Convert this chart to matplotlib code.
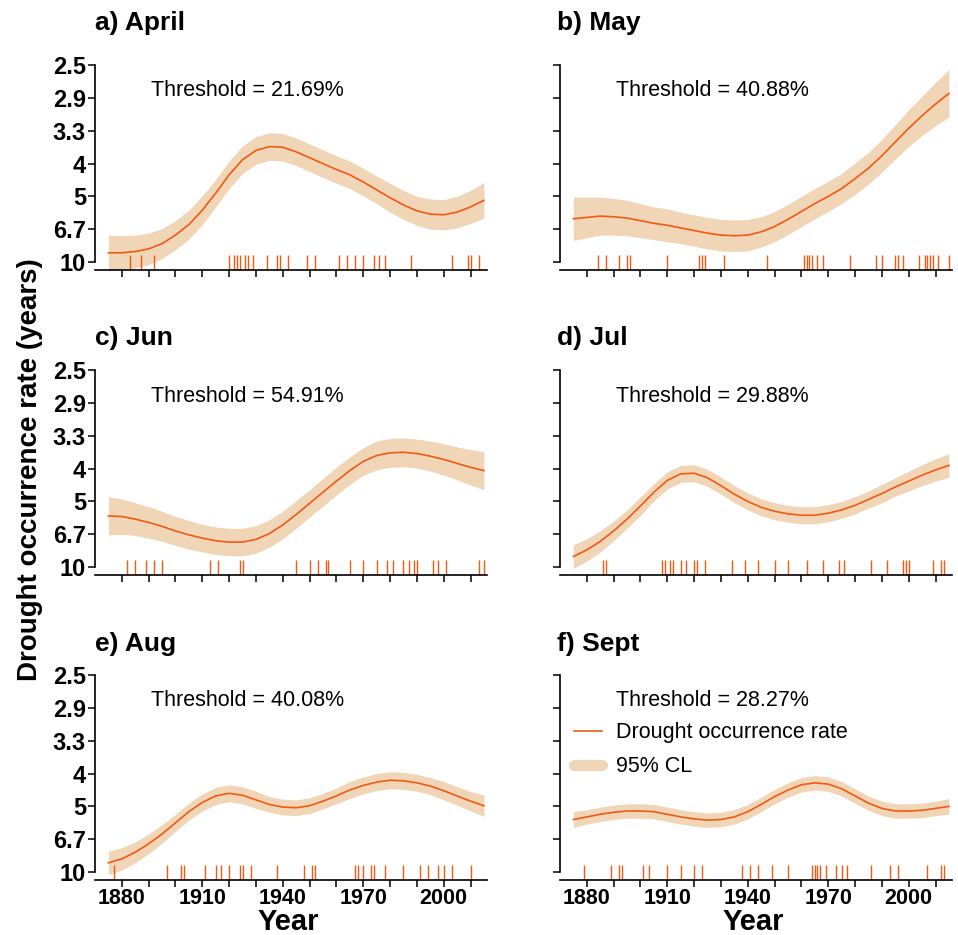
import matplotlib
matplotlib.use("Agg")
import matplotlib.pyplot as plt
import matplotlib.transforms as mtransforms
from matplotlib.lines import Line2D
import numpy as np

plt.rcParams['font.family'] = ['Liberation Sans', 'DejaVu Sans']

# sample years of the smoothed rate curves
years = list(range(1875, 2020, 5))

titles = ['a) April', 'b) May', 'c) Jun', 'd) Jul', 'e) Aug', 'f) Sept']
thresholds = ['21.69%', '40.88%', '54.91%', '29.88%', '40.08%', '28.27%']

# fitted drought occurrence rate (per year)
rate_apr = [0.114, 0.114, 0.116, 0.120, 0.128, 0.141, 0.157, 0.179, 0.205, 0.233,
            0.256, 0.270, 0.276, 0.275, 0.268, 0.259, 0.250, 0.241, 0.233, 0.222,
            0.210, 0.198, 0.187, 0.178, 0.173, 0.172, 0.176, 0.184, 0.194]
rate_may = [0.166, 0.168, 0.170, 0.169, 0.167, 0.163, 0.159, 0.156, 0.152, 0.148,
            0.144, 0.141, 0.140, 0.141, 0.146, 0.154, 0.165, 0.177, 0.189, 0.200,
            0.212, 0.227, 0.243, 0.262, 0.283, 0.304, 0.323, 0.341, 0.357]
rate_jun = [0.178, 0.177, 0.173, 0.168, 0.162, 0.155, 0.149, 0.144, 0.140, 0.138,
            0.138, 0.142, 0.151, 0.164, 0.180, 0.197, 0.214, 0.231, 0.247, 0.261,
            0.270, 0.274, 0.275, 0.273, 0.269, 0.264, 0.258, 0.252, 0.247]
rate_jul = [0.116, 0.126, 0.139, 0.155, 0.173, 0.193, 0.214, 0.232, 0.242, 0.243,
            0.236, 0.224, 0.211, 0.200, 0.191, 0.185, 0.181, 0.179, 0.179, 0.182,
            0.187, 0.194, 0.203, 0.212, 0.222, 0.231, 0.240, 0.248, 0.255]
rate_aug = [0.114, 0.120, 0.130, 0.143, 0.158, 0.175, 0.192, 0.206, 0.216, 0.220,
            0.217, 0.210, 0.203, 0.199, 0.198, 0.201, 0.208, 0.216, 0.225, 0.232,
            0.237, 0.240, 0.239, 0.236, 0.231, 0.224, 0.216, 0.208, 0.201]
rate_sep = [0.180, 0.184, 0.188, 0.191, 0.193, 0.193, 0.192, 0.188, 0.184, 0.181,
            0.179, 0.180, 0.184, 0.192, 0.203, 0.215, 0.225, 0.233, 0.236, 0.234,
            0.227, 0.216, 0.205, 0.197, 0.193, 0.193, 0.194, 0.197, 0.200]

# half width of the 95% confidence band
ci_apr = [0.027, 0.026, 0.025, 0.024, 0.023, 0.022, 0.022, 0.022, 0.021, 0.021,
          0.021, 0.021, 0.021, 0.021, 0.021, 0.021, 0.021, 0.021, 0.021, 0.021,
          0.021, 0.022, 0.022, 0.022, 0.023, 0.023, 0.024, 0.025, 0.027]
ci_may = [0.033, 0.031, 0.029, 0.028, 0.027, 0.026, 0.025, 0.025, 0.024, 0.024,
          0.024, 0.024, 0.024, 0.024, 0.023, 0.023, 0.023, 0.023, 0.023, 0.023,
          0.023, 0.024, 0.024, 0.025, 0.026, 0.028, 0.030, 0.033, 0.036]
ci_jun = [0.029, 0.027, 0.025, 0.024, 0.023, 0.022, 0.022, 0.021, 0.021, 0.021,
          0.021, 0.021, 0.021, 0.021, 0.021, 0.021, 0.021, 0.021, 0.021, 0.021,
          0.022, 0.022, 0.022, 0.022, 0.023, 0.024, 0.025, 0.027, 0.029]
ci_jul = [0.018, 0.017, 0.016, 0.015, 0.014, 0.014, 0.013, 0.013, 0.013, 0.013,
          0.013, 0.013, 0.013, 0.013, 0.013, 0.013, 0.013, 0.013, 0.013, 0.013,
          0.013, 0.013, 0.013, 0.014, 0.014, 0.015, 0.016, 0.017, 0.018]
ci_aug = [0.018, 0.017, 0.016, 0.015, 0.014, 0.013, 0.013, 0.013, 0.013, 0.013,
          0.013, 0.013, 0.012, 0.012, 0.012, 0.012, 0.012, 0.012, 0.013, 0.013,
          0.013, 0.013, 0.013, 0.013, 0.013, 0.014, 0.014, 0.015, 0.016]
ci_sep = [0.012, 0.011, 0.011, 0.011, 0.011, 0.011, 0.011, 0.011, 0.011, 0.011,
          0.011, 0.011, 0.011, 0.011, 0.011, 0.011, 0.011, 0.011, 0.011, 0.011,
          0.011, 0.011, 0.011, 0.011, 0.011, 0.011, 0.011, 0.011, 0.012]

# years in which a drought was recorded
drought_apr = [1883, 1887, 1892, 1920, 1922, 1923, 1924, 1926, 1927, 1929, 1934, 1938,
               1939, 1942, 1949, 1952, 1961, 1964, 1967, 1970, 1974, 1976, 1978, 1988,
               2003, 2009, 2010, 2013]
drought_may = [1884, 1887, 1892, 1895, 1896, 1910, 1922, 1923, 1924, 1931, 1947, 1961,
               1962, 1963, 1964, 1966, 1968, 1978, 1988, 1990, 1995, 1996, 1998, 2004,
               2006, 2007, 2008, 2009, 2011, 2015]
drought_jun = [1882, 1885, 1889, 1892, 1895, 1913, 1916, 1924, 1925, 1945, 1950, 1953,
               1956, 1957, 1965, 1970, 1975, 1979, 1981, 1985, 1987, 1989, 1990, 1996,
               1998, 2001, 2013, 2015]
drought_jul = [1886, 1887, 1908, 1909, 1911, 1912, 1915, 1917, 1920, 1921, 1924, 1934,
               1939, 1944, 1950, 1955, 1962, 1968, 1974, 1976, 1986, 1992, 1998, 1999,
               2000, 2009, 2012, 2013]
drought_aug = [1877, 1897, 1902, 1903, 1911, 1915, 1917, 1920, 1924, 1925, 1928, 1938,
               1948, 1951, 1952, 1967, 1968, 1970, 1973, 1974, 1978, 1985, 1991, 1994,
               1998, 2000, 2003, 2010]
drought_sep = [1879, 1889, 1892, 1893, 1901, 1903, 1910, 1915, 1920, 1923, 1938, 1941,
               1944, 1949, 1955, 1964, 1965, 1966, 1967, 1969, 1973, 1975, 1977, 1986,
               1993, 1996, 2007, 2012, 2013]

rates = [rate_apr, rate_may, rate_jun, rate_jul, rate_aug, rate_sep]
cis = [ci_apr, ci_may, ci_jun, ci_jul, ci_aug, ci_sep]
droughts = [drought_apr, drought_may, drought_jun, drought_jul, drought_aug, drought_sep]

rate_ticks = [0.10, 0.15, 0.20, 0.25, 0.30, 0.35, 0.40]
period_labels = ['10', '6.7', '5', '4', '3.3', '2.9', '2.5']
year_ticks = list(range(1880, 2020, 10))
year_labels = ['1880', '', '', '1910', '', '', '1940', '', '', '1970', '', '', '2000', '']

line_col = '#F05A12'
band_col = '#F0D5B6'

W, H = 958, 935
fig = plt.figure(figsize=(W / 100, H / 100), dpi=100)

col_left = [95, 560]
title_x = [95, 557]
title_base = [30, 345, 651]
row_top = [65, 370, 675]
ax_w, ax_h = 391.6, 205

for i in range(6):
    r, c = divmod(i, 2)
    ax = fig.add_axes([col_left[c] / W, 1 - (row_top[r] + ax_h) / H, ax_w / W, ax_h / H])
    fit = np.array(rates[i])
    half = np.array(cis[i])
    ax.fill_between(years, fit - half, fit + half, color=band_col, lw=0)
    ax.plot(years, fit, color=line_col, lw=1.2, solid_joinstyle='round')

    # rug of drought years along the bottom
    trans = mtransforms.blended_transform_factory(ax.transData, ax.transAxes)
    ax.vlines(droughts[i], 0, 0.075, transform=trans, color=line_col, lw=1.0)

    ax.set_xlim(1870, 2016)
    ax.set_ylim(0.0878, 0.4004)
    for s in ['top', 'right']:
        ax.spines[s].set_visible(False)
    ax.spines['left'].set_bounds(0.1, 0.4)
    ax.spines['left'].set_linewidth(1.2)
    ax.spines['bottom'].set_linewidth(1.2)

    ax.set_yticks(rate_ticks)
    ax.set_xticks(year_ticks)
    ax.tick_params(axis='both', direction='out', width=1.1, length=5)
    if c == 0:
        ax.set_yticklabels(period_labels, fontsize=17, fontweight='bold')
    else:
        ax.set_yticklabels([])
    if r == 2:
        ax.set_xticklabels(year_labels, fontsize=15.5, fontweight='bold')
    else:
        ax.set_xticklabels([])
    ax.tick_params(axis='x', pad=1)
    ax.tick_params(axis='y', pad=1.5)

    ax.text(56 / ax_w, 1 - 26 / ax_h, 'Threshold = ' + thresholds[i],
            transform=ax.transAxes, fontsize=15.5, va='center', ha='left')

    fig.text(title_x[c] / W, 1 - title_base[r] / H, titles[i],
             fontsize=19, fontweight='bold', ha='left', va='baseline')

    if r == 2:
        fig.text((col_left[c] + ax_w / 2 - 3) / W, 1 - 930 / H, 'Year',
                 fontsize=21, fontweight='bold', ha='center', va='baseline')

    if i == 5:
        handles = [Line2D([], [], color=line_col, lw=1.2),
                   Line2D([], [], color=band_col, lw=8, solid_capstyle='round')]
        ax.legend(handles, ['Drought occurrence rate', '95% CL'],
                  loc='upper left', bbox_to_anchor=(0.035, 0.77), frameon=False,
                  fontsize=15.5, handlelength=1.3, handletextpad=0.65,
                  labelspacing=0.6, borderaxespad=0, borderpad=0)

fig.text(30 / W, 1 - 470 / H, 'Drought occurrence rate (years)', rotation=90,
         fontsize=20, fontweight='bold', ha='center', va='center')

fig.savefig('out.png', dpi=100)
